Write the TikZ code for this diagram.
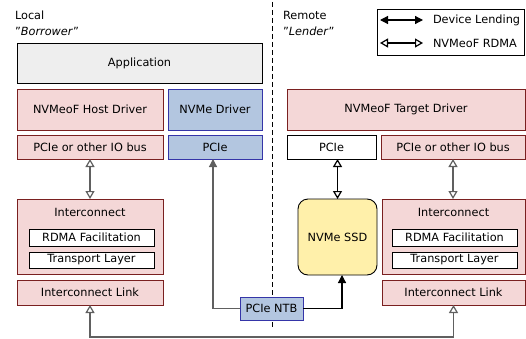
\documentclass[tikz,border=0pt]{standalone}
\usepackage{fontspec}
\setmainfont{DejaVu Sans}
\usetikzlibrary{arrows.meta,calc}
\definecolor{pinkfill}{HTML}{F4D7D7}
\definecolor{pinkdraw}{HTML}{7A2020}
\definecolor{bluefill}{HTML}{B3C6E0}
\definecolor{bluedraw}{HTML}{3535A8}
\definecolor{ssdfill}{HTML}{FFF0AA}
\definecolor{appfill}{HTML}{EEEEEE}
\definecolor{linegray}{HTML}{606060}
\tikzset{
  base/.style={inner sep=0pt, outer sep=0pt, line width=0.9pt, font=\fontsize{11.3}{13}\selectfont},
  pinkbox/.style={base, draw=pinkdraw, fill=pinkfill},
  bluebox/.style={base, draw=bluedraw, fill=bluefill},
  whitebox/.style={base, draw=black, fill=white},
  appbox/.style={base, draw=black, fill=appfill},
  ssdbox/.style={base, draw=black, fill=ssdfill, rounded corners=10pt},
  plain/.style={base, draw=none, fill=none},
  rdma/.style={{Triangle[open,length=8pt,width=9pt]}-{Triangle[open,length=8pt,width=9pt]}, line width=1.2pt},
  lend/.style={-{Triangle[length=8pt,width=8pt]}, line width=1.2pt},
  lendboth/.style={{Triangle[length=8pt,width=8pt]}-{Triangle[length=8pt,width=8pt]}, line width=1.2pt},
}
\newcommand{\bx}[7]{%
  \node[#6, minimum width={(#4)-(#2)}, minimum height={(#5)-(#3)}] (#1) at ({((#2)+(#4))/2},{((#3)+(#5))/2}) {#7};}
\begin{document}
\begin{tikzpicture}[x=1pt,y=-1pt]
\useasboundingbox (0,0) rectangle (526,339);
% divider
\coordinate (dtop) at (272,2);
\coordinate (dbot) at (272,328);
\draw[dashed, dash pattern=on 5pt off 3pt, line width=0.8pt] (dtop) -- (dbot);
% headings
\node[plain, anchor=west] (local) at (15,15) {Local};
\node[plain, anchor=west] (borrower) at (15,31) {\symbol{34}\textit{Borrower}\symbol{34}};
\node[plain, anchor=west] (remote) at (283,15) {Remote};
\node[plain, anchor=west] (lender) at (283,31) {\symbol{34}\textit{Lender}\symbol{34}};
% legend
\bx{legend}{377}{9}{524}{55}{whitebox}{}
\coordinate (l1a) at (380,20);
\coordinate (l1b) at (423,20);
\coordinate (l2a) at (380,43);
\coordinate (l2b) at (423,43);
\draw[lendboth] (l1a) -- (l1b);
\draw[rdma] (l2a) -- (l2b);
\node[plain, anchor=west] (legt1) at (433,20) {Device Lending};
\node[plain, anchor=west] (legt2) at (433,43) {NVMeoF RDMA};
% local side
\bx{app}{17}{43}{262}{83}{appbox}{Application}
\bx{hostdrv}{17}{89}{163}{130}{pinkbox}{NVMeoF Host Driver}
\bx{nvmedrv}{168}{89}{262}{130}{bluebox}{NVMe Driver}
\bx{lbus}{17}{135}{163}{159}{pinkbox}{PCIe or other IO bus}
\bx{lpcie}{168}{135}{262}{159}{bluebox}{PCIe}
\bx{lic}{17}{199}{163}{274}{pinkbox}{}
\node[plain] (lictext) at (90,212) {Interconnect};
\bx{lrdma}{29}{229}{154}{246}{whitebox}{RDMA Facilitation}
\bx{ltrans}{29}{252}{154}{268}{whitebox}{Transport Layer}
\bx{llink}{17}{280}{163}{305}{pinkbox}{Interconnect Link}
% middle
\bx{ntb}{240}{297}{303}{320}{bluebox}{PCIe NTB}
% remote side
\bx{tgtdrv}{287}{89}{525}{130}{pinkbox}{NVMeoF Target Driver}
\bx{rpcie}{287}{135}{376}{159}{whitebox}{PCIe}
\bx{rbus}{381}{135}{525}{159}{pinkbox}{PCIe or other IO bus}
\bx{ssd}{298}{199}{377}{275}{ssdbox}{NVMe SSD}
\bx{ric}{382}{199}{525}{274}{pinkbox}{}
\node[plain] (rictext) at (453.5,212) {Interconnect};
\bx{rrdma}{392}{229}{517}{246}{whitebox}{RDMA Facilitation}
\bx{rtrans}{392}{252}{517}{268}{whitebox}{Transport Layer}
\bx{rlink}{382}{280}{525}{305}{pinkbox}{Interconnect Link}
% connectors
\coordinate (bot) at (0,337);
\draw[rdma, draw=linegray] (lbus.south) -- (lbus.south |- lic.north);
\draw[rdma] (ssd.north |- rpcie.south) -- (ssd.north);
\draw[rdma, draw=linegray] (rbus.south) -- (rbus.south |- ric.north);
\draw[lend, draw=linegray] (ntb.west) -| ([xshift=-2pt]lpcie.south);
\draw[lend] (ntb.east) -| ([xshift=4.5pt]ssd.south);
\draw[rdma, draw=linegray] (llink.south) -- (llink.south |- bot) -| (rlink.south);
\end{tikzpicture}
\end{document}
